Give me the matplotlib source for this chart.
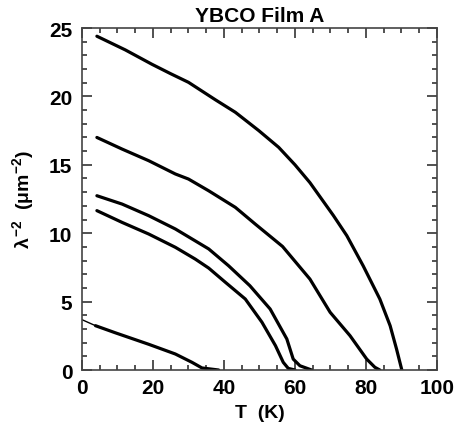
import matplotlib
matplotlib.use("Agg")
import matplotlib.pyplot as plt
from matplotlib.ticker import MultipleLocator

plt.rcParams['font.family'] = ['Liberation Sans', 'DejaVu Sans']
plt.rcParams['mathtext.fontset'] = 'custom'
plt.rcParams['mathtext.rm'] = 'Liberation Sans:bold'
plt.rcParams['mathtext.it'] = 'Liberation Sans:bold'
plt.rcParams['mathtext.bf'] = 'Liberation Sans:bold'

# Superfluid density curves, lambda^-2 (um^-2) vs temperature (K)
t_a = [4.2, 12.2, 19.7, 24.9, 30.0, 37.6, 43.2, 49.8, 55.4, 60.0, 64.2, 70.8, 74.6, 79.2, 83.9, 86.8, 88.6, 90.1]
y_a = [24.4, 23.4, 22.35, 21.67, 21.03, 19.75, 18.84, 17.5, 16.28, 15.0, 13.7, 11.3, 9.82, 7.62, 5.19, 3.24, 1.54, 0.0]

t_b = [4.2, 11.3, 18.8, 26.3, 30.0, 35.7, 43.2, 48.8, 56.5, 64.2, 69.9, 75.5, 80.2, 82.5, 83.9]
y_b = [17.0, 16.15, 15.3, 14.33, 13.96, 13.1, 11.89, 10.67, 9.03, 6.65, 4.22, 2.51, 0.8, 0.2, 0.0]

t_c = [4.2, 11.3, 18.8, 26.3, 35.7, 41.3, 47.3, 53.0, 57.7, 59.5, 61.4, 64.7]
y_c = [12.74, 12.13, 11.28, 10.31, 8.85, 7.62, 6.16, 4.46, 2.27, 0.8, 0.31, 0.0]

t_d = [4.2, 11.3, 18.8, 26.3, 31.9, 35.7, 40.4, 46.0, 50.7, 54.5, 56.7, 58.1, 60.0]
y_d = [11.65, 10.79, 9.94, 8.97, 8.11, 7.45, 6.41, 5.19, 3.49, 1.78, 0.56, 0.12, 0.0]

t_e = [3.8, 9.4, 18.8, 26.3, 31.0, 33.8, 36.0, 38.5]
y_e = [3.24, 2.72, 1.88, 1.17, 0.56, 0.15, 0.08, 0.0]

# low-temperature extrapolation of the lowest curve
t_e_ext = [0.0, 3.8]
y_e_ext = [3.68, 3.24]

fig = plt.figure(figsize=(4.57, 4.35), dpi=100)
ax = fig.add_axes([0.1794, 0.1471, 0.9562 - 0.1794, 0.9333 - 0.1471])

lw = 2.3
for t, y in [(t_a, y_a), (t_b, y_b), (t_c, y_c), (t_d, y_d), (t_e, y_e)]:
    ax.plot(t, y, color='black', lw=lw, solid_capstyle='round', solid_joinstyle='round')
ax.plot(t_e_ext, y_e_ext, color='black', lw=1.0)

ax.set_xlim(0, 100)
ax.set_ylim(0, 25)
ax.xaxis.set_major_locator(MultipleLocator(20))
ax.xaxis.set_minor_locator(MultipleLocator(5))
ax.yaxis.set_major_locator(MultipleLocator(5))
ax.yaxis.set_minor_locator(MultipleLocator(1))
ax.tick_params(which='both', direction='in', top=True, right=True, width=1.2, color='#333333')
ax.tick_params(which='major', length=7, labelsize=15)
ax.tick_params(axis='x', which='major', pad=6)
ax.tick_params(axis='y', which='major', pad=7)
ax.tick_params(which='minor', length=3.5)
for lab in ax.get_xticklabels() + ax.get_yticklabels():
    lab.set_fontweight('bold')
for s in ax.spines.values():
    s.set_linewidth(1.2)
    s.set_color('#444444')

ax.set_title('YBCO Film A', fontsize=15, fontweight='bold', pad=5)
ax.set_xlabel('T  (K)', fontsize=14, fontweight='bold', labelpad=5)
ax.set_ylabel(r'$\lambda^{-2}$  ($\mu$m$^{-2}$)', fontsize=14, fontweight='bold', labelpad=9)

fig.savefig('out.png', dpi=100)
